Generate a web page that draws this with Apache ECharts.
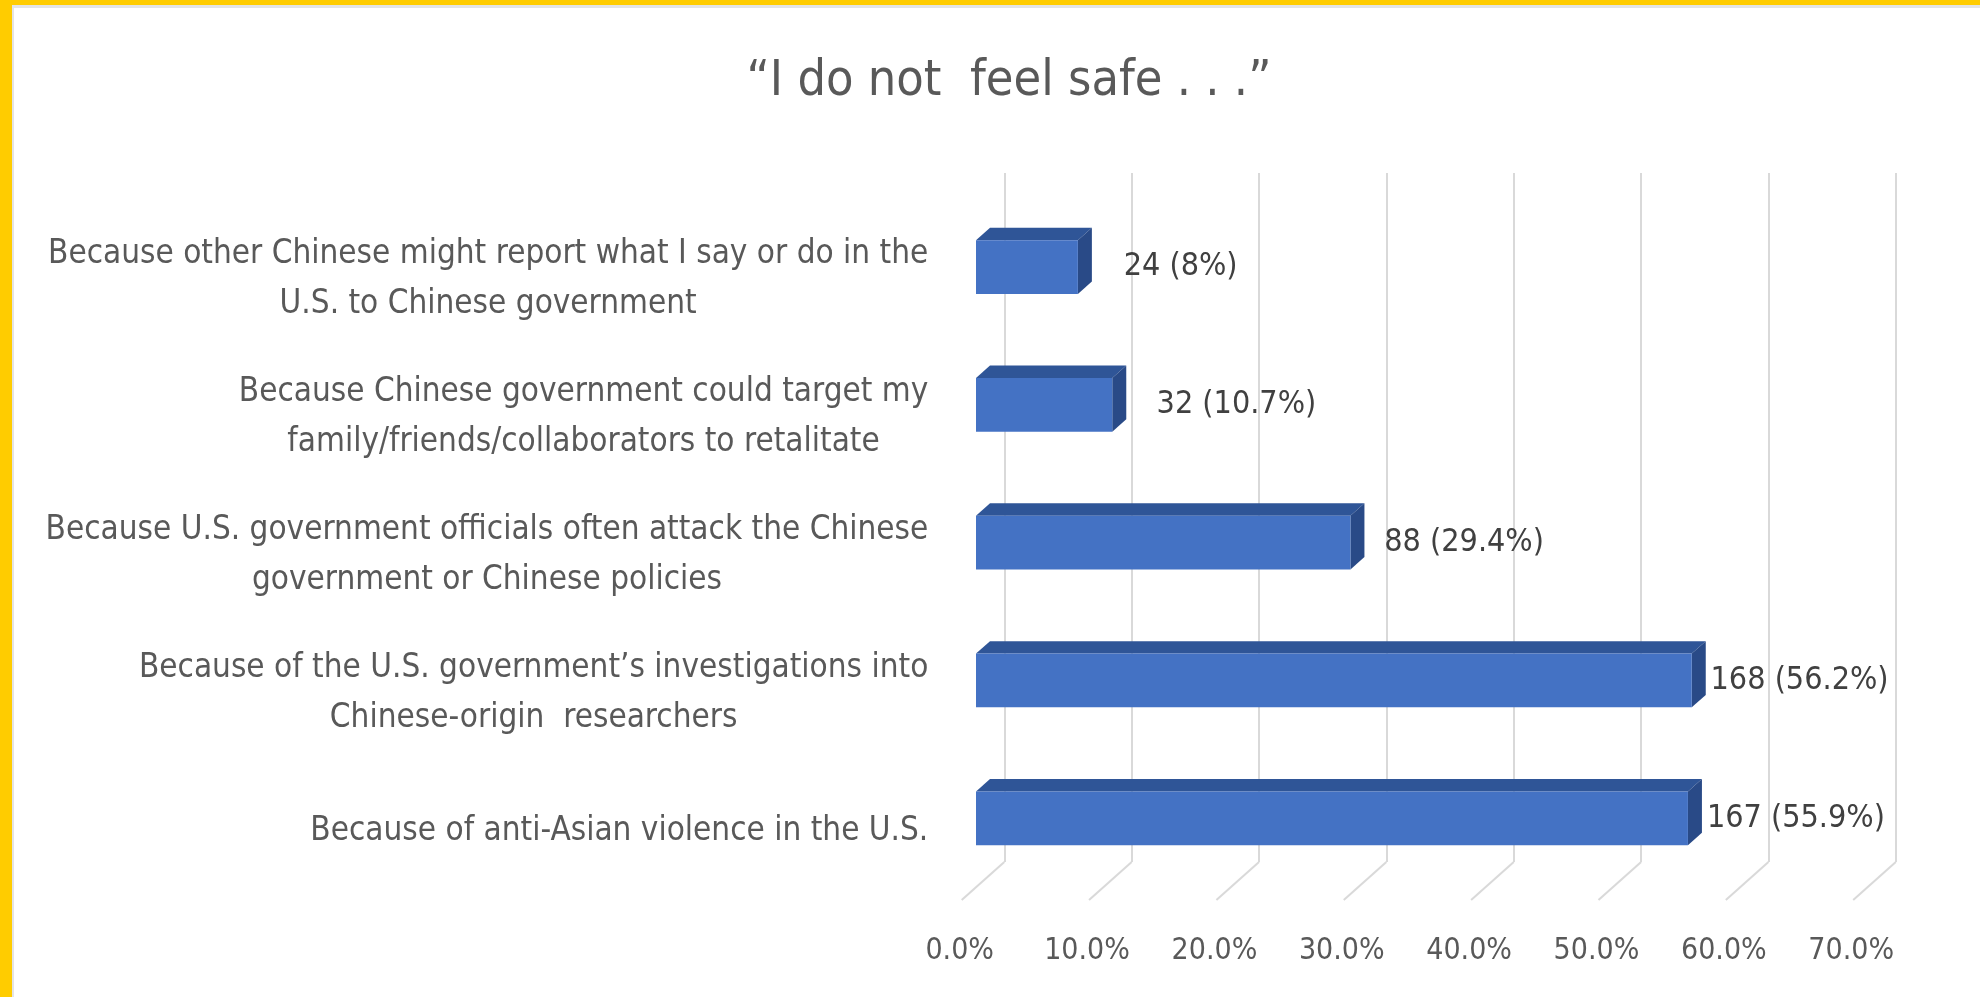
<!DOCTYPE html>
<html>
<head>
<meta charset="utf-8">
<script src="https://cdn.jsdelivr.net/npm/echarts@6/dist/echarts.min.js"></script>
<style>
  html, body { margin: 0; padding: 0; background: #ffffff; }
  #chart { width: 1980px; height: 997px; }
</style>
</head>
<body>
<div id="chart"></div>
<script>
// ---- data ----
const titleText = '\u201CI do not  feel safe . . .\u201D';
const reasons = [
  'Because other Chinese might report what I say or do in the\nU.S. to Chinese government',
  'Because Chinese government could target my\nfamily/friends/collaborators to retalitate',
  'Because U.S. government officials often attack the Chinese\ngovernment or Chinese policies',
  'Because of the U.S. government\u2019s investigations into\nChinese-origin  researchers',
  'Because of anti-Asian violence in the U.S.'
];
const respondents = [24, 32, 88, 168, 167];
const shares = [8, 10.7, 29.4, 56.2, 55.9];
const percentTicks = [0, 10, 20, 30, 40, 50, 60, 70];

// ---- drawing ----
const FONT = '"DejaVu Sans Condensed", "DejaVu Sans", sans-serif';
const TEXT_GREY = '#595959';
// oblique 3-D look: offsets measured from the back wall toward the viewer
const FRONT_DEPTH = 28.3;   // bar front face
const BACK_DEPTH = 14.3;    // bar back face
const FLOOR_DEPTH = 42.6;   // front edge of the floor
const SLANT = 0.89;         // vertical drop per pixel of depth
// value labels sit on a slightly foreshortened plane in front of the bars
const LABEL_SCALE = 0.956;
const LABEL_GAP = 22;

const barData = shares.map((s, i) => [s, i, respondents[i]]);
const floorData = percentTicks.map(t => [t, 0]);

function renderBar(params, api) {
  const idx = api.value(1);
  const start = api.coord([0, idx]);
  const end = api.coord([api.value(0), idx]);
  const h = api.size([0, 1])[1] * 0.39;
  const fx0 = start[0] - FRONT_DEPTH, fx1 = end[0] - FRONT_DEPTH;
  const fy = start[1] + FRONT_DEPTH * SLANT;
  const bx0 = start[0] - BACK_DEPTH, bx1 = end[0] - BACK_DEPTH;
  const by = start[1] + BACK_DEPTH * SLANT;
  const labelX = start[0] + LABEL_SCALE * (end[0] - start[0]) + LABEL_GAP;
  return {
    type: 'group',
    children: [
      { type: 'polygon',
        shape: { points: [[fx0, fy - h / 2], [fx1, fy - h / 2], [bx1, by - h / 2], [bx0, by - h / 2]] },
        style: { fill: '#2F5597' } },
      { type: 'polygon',
        shape: { points: [[fx1, fy - h / 2], [bx1, by - h / 2], [bx1, by + h / 2], [fx1, fy + h / 2]] },
        style: { fill: '#294A87' } },
      { type: 'rect',
        shape: { x: fx0, y: fy - h / 2, width: fx1 - fx0, height: h },
        style: { fill: '#4472C4' } },
      { type: 'text',
        style: {
          x: labelX, y: fy,
          text: api.value(2) + ' (' + api.value(0) + '%)',
          fill: '#404040', fontSize: 32, fontFamily: FONT,
          align: 'left', verticalAlign: 'middle'
        } }
    ]
  };
}

function renderFloorLine(params, api) {
  const x = api.coord([api.value(0), 0])[0];
  const cs = params.coordSys;
  const y = cs.y + cs.height;
  return {
    type: 'line',
    shape: { x1: x, y1: y, x2: x - FLOOR_DEPTH, y2: y + FLOOR_DEPTH * SLANT },
    style: { stroke: '#D9D9D9', lineWidth: 2 }
  };
}

const chart = echarts.init(document.getElementById('chart'), null, { renderer: 'canvas' });

chart.setOption({
  backgroundColor: '#ffffff',
  animation: false,
  title: {
    text: titleText,
    left: 1004,
    top: 52,
    textAlign: 'center',
    textStyle: { fontFamily: FONT, fontSize: 50, fontWeight: 'normal', color: TEXT_GREY }
  },
  graphic: [
    { type: 'rect', shape: { x: 11, y: 5, width: 1969, height: 3 }, style: { fill: '#E4E4E4' }, z: 100 },
    { type: 'rect', shape: { x: 11, y: 5, width: 3, height: 992 }, style: { fill: '#E4E4E4' }, z: 100 },
    { type: 'rect', shape: { x: 0, y: 0, width: 1980, height: 5 }, style: { fill: '#FFCC00' }, z: 101 },
    { type: 'rect', shape: { x: 0, y: 0, width: 12, height: 997 }, style: { fill: '#FFCC00' }, z: 101 }
  ],
  grid: {
    left: 1004.3, right: 84.2, top: 173, bottom: 135,
    containLabel: false,
    outerBoundsMode: 'none'
  },
  xAxis: {
    type: 'value',
    min: 0, max: 70, interval: 10,
    axisLine: { show: false },
    axisTick: { show: false },
    splitLine: { show: true, lineStyle: { color: '#D9D9D9', width: 2 } },
    axisLabel: {
      margin: 74,
      padding: [0, FLOOR_DEPTH * 2 + 4, 0, 0],
      fontFamily: FONT, fontSize: 30, color: TEXT_GREY,
      formatter: v => v.toFixed(1) + '%'
    }
  },
  yAxis: {
    type: 'category',
    inverse: true,
    data: reasons,
    axisLine: { show: false },
    axisTick: { show: false },
    splitLine: { show: false },
    axisLabel: {
      interval: 0,
      margin: 76,
      align: 'right',
      padding: [FLOOR_DEPTH * SLANT * 2, 0, 0, 0],
      fontFamily: FONT, fontSize: 33, color: TEXT_GREY, lineHeight: 50,
      formatter: v => v.split('\n').map(line => '{c|' + line + '}').join('\n'),
      rich: {
        c: { align: 'center', fontFamily: FONT, fontSize: 33, color: TEXT_GREY, lineHeight: 50 }
      }
    }
  },
  series: [
    {
      type: 'custom',
      name: 'floor',
      renderItem: renderFloorLine,
      data: floorData,
      silent: true,
      z: 1
    },
    {
      type: 'custom',
      name: 'respondents',
      renderItem: renderBar,
      data: barData,
      encode: { x: 0, y: 1 },
      z: 2
    }
  ]
});
</script>
</body>
</html>
